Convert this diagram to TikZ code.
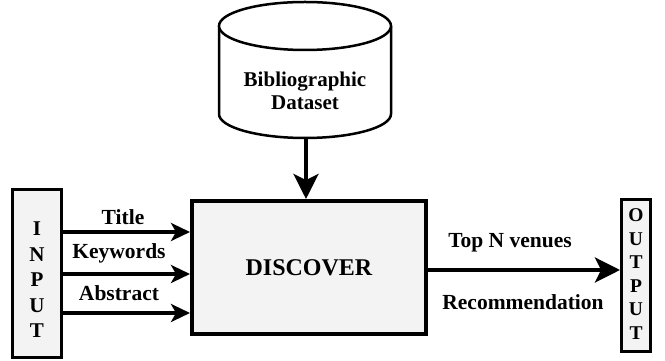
\documentclass[tikz,border=0pt]{standalone}
\usepackage{fontspec}
\setmainfont{Liberation Serif}
\usetikzlibrary{arrows.meta}
\definecolor{boxfill}{HTML}{F3F3F3}
\tikzset{
  x=1pt, y=1pt,
  lbl/.style={font=\fontsize{21.5}{24}\selectfont\bfseries, inner sep=0pt},
  sidebox/.style={draw, line width=3pt, fill=boxfill, inner sep=0pt},
  flow/.style={line width=3.4pt, -{Stealth[length=19pt, width=18pt, inset=5pt]}},
  bigflow/.style={line width=3.6pt, -{Stealth[length=25pt, width=25pt, inset=6pt]}},
}
\begin{document}
\begin{tikzpicture}
\useasboundingbox (0,0) rectangle (665,361);

% input column
\node[sidebox, minimum width=49pt, minimum height=168pt] (input) at (37,87.5) {};
\node[lbl, align=center, font=\fontsize{21}{25.5}\selectfont\bfseries] (inlet) at (37,81) {I\\N\\P\\U\\T};

% central block
\node[draw, line width=4pt, fill=boxfill, minimum width=234pt, minimum height=133pt, inner sep=0pt] (discover) at (309,93.5) {};
\node[lbl, font=\fontsize{24}{28}\selectfont\bfseries] (dtext) at (309,93) {DISCOVER};

% output column
\node[sidebox, minimum width=29pt, minimum height=152pt] (output) at (636,85.5) {};
\node[lbl, align=center, font=\fontsize{19.5}{23.6}\selectfont\bfseries] (outlet) at (636,87) {O\\U\\T\\P\\U\\T};

% dataset cylinder
\draw[line width=2.5pt, fill=white] (219,335) -- (219,247)
  arc[start angle=180, end angle=360, x radius=86, y radius=24] -- (391,335);
\draw[line width=2.5pt, fill=white] (305,335) ellipse[x radius=86, y radius=24];
\coordinate (dbase) at (306,223);
\node[lbl, align=center, font=\fontsize{21}{23}\selectfont\bfseries] (dtxt) at (305,270) {Bibliographic\\Dataset};

% connectors
\coordinate (ytitle) at (0,129);
\coordinate (ykey) at (0,87);
\coordinate (yabs) at (0,48);
\coordinate (yout) at (0,91);
\draw[flow] (input.east |- ytitle) -- (discover.west |- ytitle);
\draw[flow] (input.east |- ykey) -- (discover.west |- ykey);
\draw[flow] (input.east |- yabs) -- (discover.west |- yabs);
\draw[bigflow] (dbase) -- (dbase |- discover.north);
\draw[bigflow] (discover.east |- yout) -- (output.west |- yout);

% labels
\node[lbl] (ltitle) at (123,144) {Title};
\node[lbl] (lkey) at (119,108) {Keywords};
\node[lbl] (labs) at (119,68) {Abstract};
\node[lbl] (ltop) at (510,118) {Top N venues};
\node[lbl] (lrec) at (523,59) {Recommendation};
\end{tikzpicture}
\end{document}
